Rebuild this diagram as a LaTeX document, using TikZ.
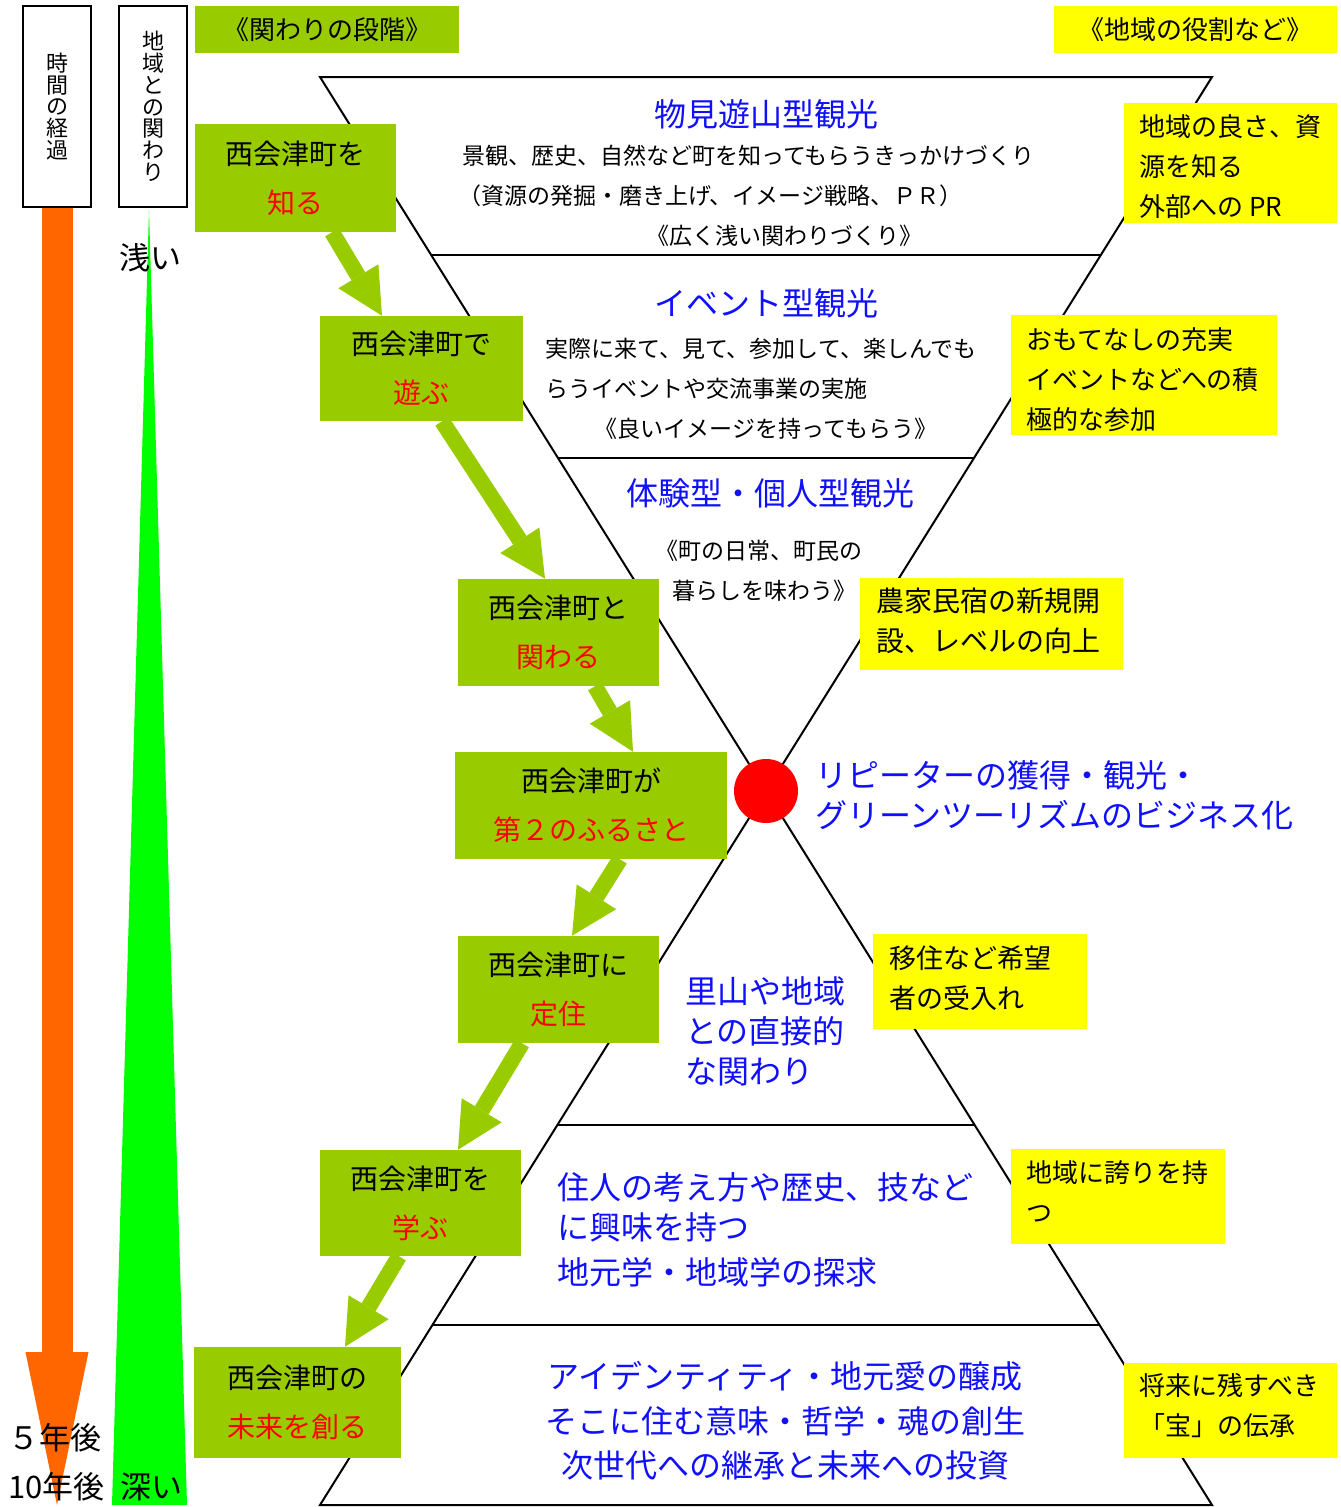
\documentclass[tikz,border=0pt]{standalone}
\usepackage{fontspec}
\setmainfont{Noto Sans CJK JP}
\usetikzlibrary{arrows.meta,calc}
\definecolor{gcol}{HTML}{99CC00}
\definecolor{ycol}{HTML}{FFFF00}
\definecolor{ocol}{HTML}{FF6600}
\definecolor{lgcol}{HTML}{00FF00}
\definecolor{bcol}{HTML}{1010FF}
\begin{document}
\begin{tikzpicture}[x=0.75pt,y=-0.75pt,
  hg/.style={line width=1.5pt, draw=black, line join=miter},
  gbox/.style={fill=gcol, inner sep=0pt, align=center, font=\fontsize{21}{36.75}\selectfont},
  ybox/.style={fill=ycol, inner sep=0pt},
  ytxt/.style={inner sep=0pt, align=left, anchor=west, font=\fontsize{19.5}{30}\selectfont},
  garrow/.style={draw=gcol, line width=12pt, -{Triangle[length=34.5pt,width=35pt,line width=0pt]}},
  oarrow/.style={draw=ocol, line width=23.25pt, -{Triangle[length=114.75pt,width=47.25pt,line width=0pt]}},
  btxt/.style={inner sep=0pt, align=left, font=\fontsize{17.25}{30}\selectfont},
  bluet/.style={inner sep=0pt, text=bcol, align=left, font=\fontsize{24}{30}\selectfont},
  vbox/.style={draw=black, line width=1.5pt, fill=white, minimum width=51pt, minimum height=150.75pt, inner sep=0pt, align=center, font=\fontsize{16.5}{16.3}\selectfont},
  ltxt/.style={inner sep=0pt, font=\fontsize{23.25}{30}\selectfont},
]
\fill[white] (0,0) rectangle (1340,1507);
\useasboundingbox (0,0) rectangle (1340,1507);

% hourglass
\draw[hg] (1212,1505) -- (320,77) -- (1212,77) -- (320,1505) -- cycle;
\draw[hg] (431.2,255) -- (1100.8,255);
\draw[hg] (558,458) -- (974,458);
\draw[hg] (557.4,1125) -- (974.6,1125);
\draw[hg] (432.4,1325) -- (1099.6,1325);

% left column
\fill[lgcol] (149,210) -- (112,1505) -- (187,1505) -- cycle;
\node[vbox] (timebox) at (57,106.5) {時\\間\\の\\経\\過};
\node[vbox] (relbox) at (153,106.5) {地\\域\\と\\の\\関\\わ\\り};
\coordinate (timeend) at (57,1505);
\draw[oarrow] (timebox.south) -- (timeend);
\node[ltxt, anchor=west] (shallow) at (119,258) {浅い};
\node[ltxt, anchor=west] (deep) at (120,1487) {深い};
\node[ltxt, anchor=west] (y5) at (8,1438) {５年後};
\node[ltxt, anchor=west] (y10) at (8,1487) {10年後};

% headers
\node[gbox, minimum width=198pt, minimum height=35.25pt, font=\fontsize{19.5}{24}\selectfont] (gh) at (327,29.5) {《関わりの段階》};
\node[ybox, align=center, minimum width=212.25pt, minimum height=35.25pt, font=\fontsize{19.5}{24}\selectfont] (yh) at (1195.5,29.5) {《地域の役割など》};

% stage boxes
\node[gbox, minimum width=150.75pt, minimum height=81pt] (b1) at (295.5,178) {西会津町を\\\textcolor{red}{知る}};
\node[gbox, minimum width=152.25pt, minimum height=78.75pt] (b2) at (421.5,368.5) {西会津町で\\\textcolor{red}{遊ぶ}};
\node[gbox, minimum width=150.75pt, minimum height=80.25pt] (b3) at (558.5,632.5) {西会津町と\\\textcolor{red}{関わる}};
\node[gbox, minimum width=204pt, minimum height=80.25pt] (b4) at (591,805.5) {西会津町が\\\textcolor{red}{第２のふるさと}};
\node[gbox, minimum width=150.75pt, minimum height=80.25pt] (b5) at (558.5,989.5) {西会津町に\\\textcolor{red}{定住}};
\node[gbox, minimum width=150.75pt, minimum height=79.5pt] (b6) at (420.5,1203) {西会津町を\\\textcolor{red}{学ぶ}};
\node[gbox, minimum width=155.25pt, minimum height=83.25pt] (b7) at (297.5,1402.5) {西会津町の\\\textcolor{red}{未来を創る}};

% stage arrows
\draw[garrow] ($(b1.south)+(36.5,0)$) -- ($(b2.north)+(-39.5,0)$);
\draw[garrow] ($(b2.south)+(20.5,0)$) -- ($(b3.north)+(-13.5,0)$);
\draw[garrow] ($(b3.south)+(36.5,0)$) -- ($(b4.north)+(42,0)$);
\draw[garrow] ($(b4.south)+(29,0)$) -- ($(b5.north)+(13.5,0)$);
\draw[garrow] ($(b5.south)+(-36.5,0)$) -- ($(b6.north)+(37.5,0)$);
\draw[garrow] ($(b6.south)+(-21.5,0)$) -- ($(b7.north)+(47.5,0)$);

% centre point
\node[circle, fill=red, minimum size=48pt, inner sep=0pt] (dot) at (766,791) {};

% role boxes
\node[ybox, minimum width=159.75pt, minimum height=90pt] (r1) at (1230.5,163) {};
\node[ytxt] (r1t) at (1139,166.5) {地域の良さ、資\\源を知る\\外部への PR};
\node[ybox, minimum width=199.5pt, minimum height=90pt] (r2) at (1144,375) {};
\node[ytxt] (r2t) at (1026,379.5) {おもてなしの充実\\イベントなどへの積\\極的な参加};
\node[ybox, minimum width=197.25pt, minimum height=69pt] (r3) at (991.5,624) {};
\node[ytxt, font=\fontsize{21}{30}\selectfont] (r3t) at (876,621) {農家民宿の新規開\\設、レベルの向上};
\node[ybox, minimum width=160.5pt, minimum height=71.25pt] (r4) at (980,981.5) {};
\node[ytxt, font=\fontsize{20.25}{30}\selectfont] (r4t) at (889,978) {移住など希望\\者の受入れ};
\node[ybox, minimum width=160.5pt, minimum height=71.25pt] (r5) at (1118,1196.5) {};
\node[ytxt] (r5t) at (1026,1192) {地域に誇りを持\\つ};
\node[ybox, minimum width=159.75pt, minimum height=71.25pt] (r6) at (1230.5,1410.5) {};
\node[ytxt] (r6t) at (1139,1406) {将来に残すべき\\「宝」の伝承};

% hourglass texts
\node[bluet] (h1) at (766,114) {物見遊山型観光};
\node[btxt, anchor=west] (t1a) at (462,156) {景観、歴史、自然など町を知ってもらうきっかけづくり};
\node[btxt, anchor=west] (t1b) at (458,196) {（資源の発掘・磨き上げ、イメージ戦略、ＰＲ）};
\node[btxt] (t1c) at (784,236) {《広く浅い関わりづくり》};

\node[bluet] (h2) at (766,303) {イベント型観光};
\node[btxt, anchor=west] (t2a) at (545,369) {実際に来て、見て、参加して、楽しんでも\\らうイベントや交流事業の実施};
\node[btxt] (t2c) at (766,429) {《良いイメージを持ってもらう》};

\node[bluet] (h3) at (770,493) {体験型・個人型観光};
\node[btxt, anchor=west] (t3a) at (655,551) {《町の日常、町民の};
\node[btxt, anchor=west] (t3b) at (672,591) {暮らしを味わう》};

\node[bluet, anchor=west] (h4) at (815,795) {リピーターの獲得・観光・\\グリーンツーリズムのビジネス化};
\node[bluet, anchor=west] (h5) at (685,1031) {里山や地域\\との直接的\\な関わり};
\node[bluet, anchor=west] (h6) at (557,1229.5) {住人の考え方や歴史、技など\\に興味を持つ\\[3.75pt]地元学・地域学の探求};
\node[bluet, align=center, font=\fontsize{24}{33.4}\selectfont] (h7) at (785,1421) {アイデンティティ・地元愛の醸成\\そこに住む意味・哲学・魂の創生\\次世代への継承と未来への投資};
\end{tikzpicture}
\end{document}
